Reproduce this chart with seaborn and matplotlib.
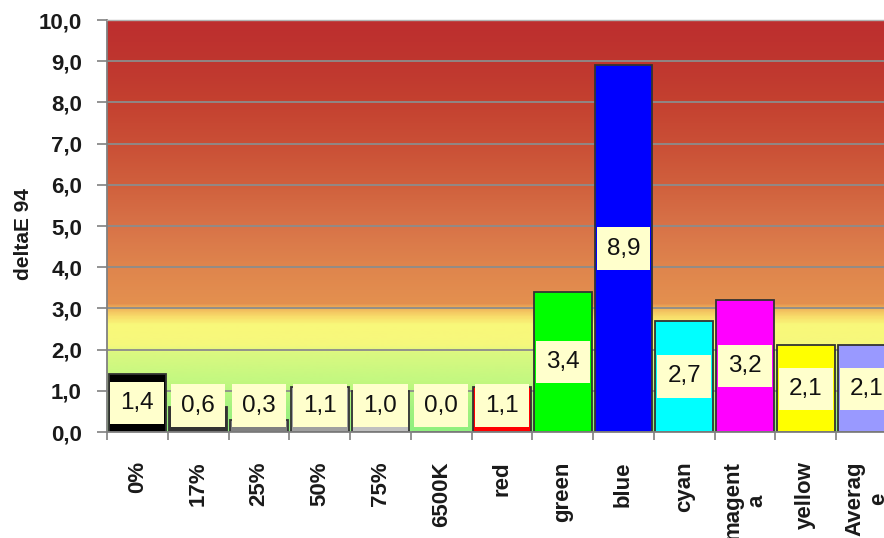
import numpy as np
import matplotlib
matplotlib.use("Agg")
import matplotlib.pyplot as plt
from matplotlib.colors import LinearSegmentedColormap
from matplotlib.ticker import FuncFormatter, FixedLocator
import seaborn as sns

# Colour-patch deltaE 94 results
categories = ["0%", "17%", "25%", "50%", "75%", "6500K", "red", "green",
              "blue", "cyan", "magenta", "yellow", "Average"]
tick_labels = ["0%", "17%", "25%", "50%", "75%", "6500K", "red", "green",
               "blue", "cyan", "magent\na", "yellow", "Averag\ne"]
delta_e = [1.4, 0.6, 0.3, 1.1, 1.0, 0.0, 1.1, 3.4, 8.9, 2.7, 3.2, 2.1, 2.1]
bar_colors = ["#000000", "#333333", "#808080", "#a0a0a0", "#c0c0c0", "#ffffff",
              "#ff0000", "#00ff00", "#0000ff", "#00ffff", "#ff00ff", "#ffff00",
              "#9999ff"]

sns.set_theme(style="white")
plt.rcParams["font.family"] = ["Liberation Sans", "DejaVu Sans"]

fig = plt.figure(figsize=(8.84, 5.38), dpi=100)
ax = fig.add_axes([107 / 884, 106 / 538, 790 / 884, 412 / 538])

# Quality-zone background: green (good) through yellow to red (poor)
stops = [
    (0.00, "#8ff07e"), (0.05, "#a0f27f"), (0.12, "#c2f880"), (0.19, "#daf880"),
    (0.21, "#f6f87c"), (0.26, "#f9f87a"), (0.28, "#f8dc6a"), (0.30, "#f0b45a"),
    (0.31, "#e4904f"), (0.40, "#df854d"), (0.50, "#d87348"), (0.60, "#d0603d"),
    (0.70, "#ca4f36"), (0.80, "#c44130"), (0.90, "#bf362f"), (1.00, "#bd2e2e"),
]
zone_cmap = LinearSegmentedColormap.from_list("zones", stops, N=512)
grad = np.linspace(0, 1, 400).reshape(-1, 1)
ax.imshow(grad, cmap=zone_cmap, origin="lower", aspect="auto",
          extent=(-0.5, len(categories) - 0.5, 0, 10), zorder=0)

sns.barplot(x=categories, y=delta_e, hue=categories, palette=bar_colors,
            legend=False, width=0.95, edgecolor="#333333", linewidth=1.3,
            saturation=1, ax=ax, zorder=2)

ax.set_xlim(-0.5, len(categories) - 0.5)
ax.set_ylim(0, 10)

# Horizontal gridlines
for yv in range(1, 10):
    ax.axhline(yv, color="#8c8c8c", lw=1.3, zorder=1)

# Value labels in cream boxes
for i, v in enumerate(delta_e):
    y_pos = max(v / 2, 0.64)
    ax.text(i, y_pos, f"{v:.1f}".replace(".", ","), ha="center", va="center",
            fontsize=17.5, color="#111111", zorder=4,
            bbox=dict(boxstyle="square,pad=0.42", fc="#ffffcc", ec="none"))

# Axes styling
ax.yaxis.set_major_locator(FixedLocator(np.arange(0, 11, 1)))
ax.yaxis.set_major_formatter(FuncFormatter(lambda v, p: f"{v:.1f}".replace(".", ",")))
ax.tick_params(axis="y", left=True, length=7, width=1.2, color="#808080",
               pad=11, labelsize=16, labelcolor="#1a1a1a")
for lbl in ax.get_yticklabels():
    lbl.set_fontweight("bold")

ax.set_xticks(range(len(categories)))
ax.set_xticklabels(tick_labels, rotation=90, fontsize=16, fontweight="bold",
                   color="#1a1a1a", ha="right", va="center",
                   rotation_mode="anchor", multialignment="center")
ax.tick_params(axis="x", which="major", length=0, pad=21)
ax.set_xticks(np.arange(-0.5, len(categories), 1), minor=True)
ax.tick_params(axis="x", which="minor", bottom=True, length=6, width=1.2,
               color="#808080")

ax.set_xlabel("")
ax.set_ylabel("deltaE 94", fontsize=15, fontweight="bold", color="#1a1a1a")
ax.yaxis.set_label_coords(-0.094, 0.48)

for side in ["left", "bottom"]:
    ax.spines[side].set_color("#808080")
    ax.spines[side].set_linewidth(1.3)
ax.spines["top"].set_color("#b0b0b0")
ax.spines["top"].set_linewidth(1.0)
ax.spines["right"].set_visible(False)

fig.savefig("out.png", dpi=100)
